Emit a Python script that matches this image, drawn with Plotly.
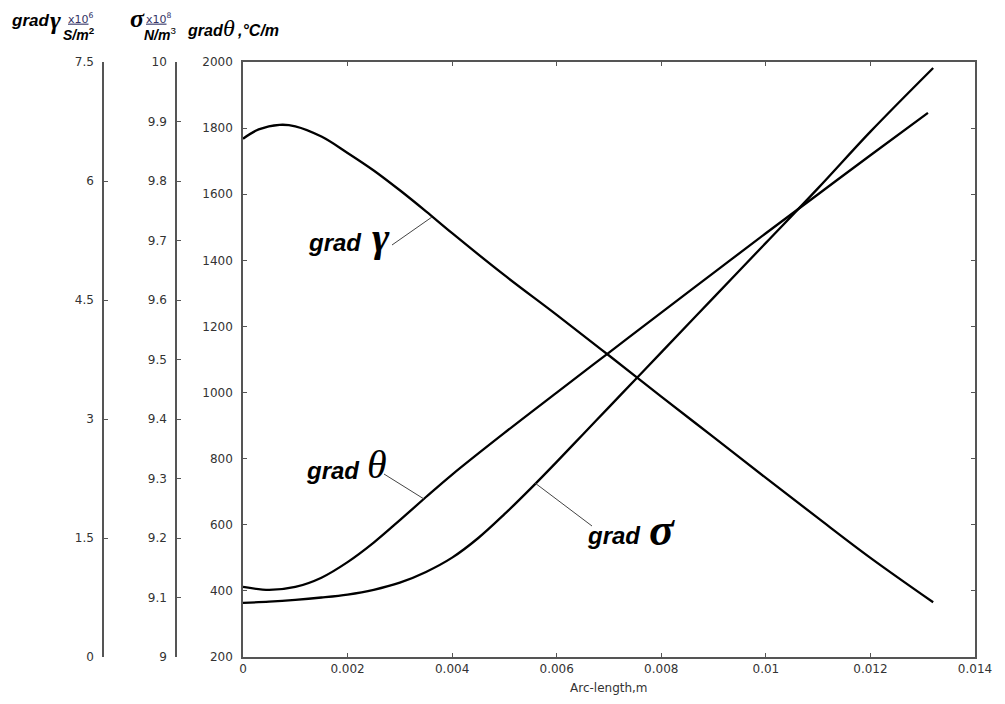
import plotly.graph_objects as go

# ---------------- data ----------------
# grad gamma (x10^6 S/m^2)
x_gamma = [0.0, 0.0003, 0.0007, 0.001, 0.0015, 0.002, 0.0025, 0.003, 0.0035, 0.004,
           0.005, 0.006, 0.007, 0.008, 0.009, 0.010, 0.011, 0.012, 0.0132]
grad_gamma = [6.533, 6.65, 6.708, 6.69, 6.56, 6.354, 6.133, 5.883, 5.617, 5.342,
              4.813, 4.313, 3.80, 3.283, 2.771, 2.258, 1.75, 1.25, 0.69]

# sigma (x10^8 N/m^3)
x_sigma = [0.0, 0.0005, 0.001, 0.0015, 0.002, 0.0025, 0.003, 0.0035, 0.004, 0.0045, 0.005,
           0.0055, 0.006, 0.0065, 0.007, 0.0075, 0.008, 0.009, 0.010, 0.011, 0.012, 0.0132]
grad_sigma = [9.091, 9.093, 9.096, 9.100, 9.105, 9.113, 9.125, 9.143, 9.167, 9.200, 9.240,
              9.283, 9.328, 9.374, 9.420, 9.466, 9.512, 9.604, 9.696, 9.788, 9.883, 9.99]

# grad theta (°C/m)
x_theta = [0.0, 0.0005, 0.001, 0.0015, 0.002, 0.0025, 0.003, 0.0035, 0.004, 0.005, 0.006,
           0.007, 0.008, 0.009, 0.010, 0.011, 0.012, 0.0131]
grad_theta = [412, 403, 412, 440, 487, 546, 614, 684, 752, 878, 1000,
              1121, 1242, 1362, 1482, 1600, 1718, 1846]

x_ticks = [0, 0.002, 0.004, 0.006, 0.008, 0.01, 0.012, 0.014]
x_ticktext = ["0", "0.002", "0.004", "0.006", "0.008", "0.01", "0.012", "0.014"]
theta_ticks = [200, 400, 600, 800, 1000, 1200, 1400, 1600, 1800, 2000]
sigma_ticks = [9, 9.1, 9.2, 9.3, 9.4, 9.5, 9.6, 9.7, 9.8, 9.9, 10]
sigma_ticktext = ["9", "9.1", "9.2", "9.3", "9.4", "9.5", "9.6", "9.7", "9.8", "9.9", "10"]
gamma_ticks = [0, 1.5, 3, 4.5, 6, 7.5]
gamma_ticktext = ["0", "1.5", "3", "4.5", "6", "7.5"]

# ---------------- layout helpers ----------------
OFF = 8                      # page body margin
W, H = 1005 - OFF, 704 - OFF
def px(x):
    return (x - OFF) / W
def py(y):
    return 1 - (y - OFF) / H

LEFT, RIGHT, TOP, BOTTOM = 243, 975, 62, 657
AX = "#555555"
TXT = "#333333"
tickfont = dict(family="DejaVu Sans", size=12, color=TXT)

fig = go.Figure()
line = dict(color="black", width=2.3, shape="spline", smoothing=1.0)
fig.add_trace(go.Scatter(x=x_theta, y=grad_theta, mode="lines", line=line,
                         yaxis="y", name="grad θ"))
fig.add_trace(go.Scatter(x=x_sigma, y=grad_sigma, mode="lines", line=line,
                         yaxis="y2", name="grad σ"))
fig.add_trace(go.Scatter(x=x_gamma, y=grad_gamma, mode="lines", line=line,
                         yaxis="y3", name="grad γ"))

fig.update_layout(
    width=W, height=H,
    margin=dict(l=0, r=0, t=0, b=0, autoexpand=False),
    paper_bgcolor="white", plot_bgcolor="white",
    showlegend=False,
    xaxis=dict(domain=[px(LEFT), px(RIGHT)], range=[0, 0.014], automargin=False,
               tickvals=x_ticks, ticktext=x_ticktext, tickfont=tickfont,
               ticks="inside", ticklen=4, tickcolor=AX,
               showline=True, linecolor=AX, linewidth=1.5, mirror="ticks",
               showgrid=False, zeroline=False),
    yaxis=dict(domain=[py(BOTTOM), py(TOP)], range=[200, 2000], automargin=False,
               tickvals=theta_ticks, tickfont=tickfont,
               ticks="inside", ticklen=4, tickcolor=AX, ticklabelstandoff=6,
               showline=True, linecolor=AX, linewidth=1.5, mirror="ticks",
               showgrid=False, zeroline=False),
    yaxis2=dict(overlaying="y", anchor="free", position=px(176), side="left", automargin=False,
                range=[9, 10], tickvals=sigma_ticks, ticktext=sigma_ticktext,
                tickfont=tickfont, ticks="inside", ticklen=4, tickcolor=AX, ticklabelstandoff=6,
                showline=True, linecolor=AX, linewidth=1.5,
                showgrid=False, zeroline=False),
    yaxis3=dict(overlaying="y", anchor="free", position=px(103), side="left", automargin=False,
                range=[0, 7.5], tickvals=gamma_ticks, ticktext=gamma_ticktext,
                tickfont=tickfont, ticks="inside", ticklen=4, tickcolor=AX, ticklabelstandoff=6,
                showline=True, linecolor=AX, linewidth=1.5,
                showgrid=False, zeroline=False),
)

# ---------------- text annotations ----------------
bi = dict(family="Liberation Sans", color="black")
greek = dict(family="Liberation Serif", color="black")
small = dict(family="DejaVu Sans", color="#333366")

def note(text, x, y, size, fam, xanchor="left", yanchor="middle"):
    fig.add_annotation(text=text, x=px(x), y=py(y), xref="paper", yref="paper",
                       showarrow=False, xanchor=xanchor, yanchor=yanchor,
                       font=dict(size=size, **fam), borderpad=0)

# x-axis title
note("Arc-length,m", 609, 688, 12, dict(family="DejaVu Sans", color=TXT), xanchor="center")

# header: grad gamma
note("<b><i>grad</i></b>", 10, 20, 17, bi)
note("<b><i>γ</i></b>", 49, 20, 26, greek)
note("<u>x10</u><sup>6</sup>", 67, 18, 11, small)
note("<b><i>S/m</i></b><sup><b>2</b></sup>", 62, 34, 14, bi)
# header: sigma
note("<b><i>σ</i></b>", 129, 18, 26, greek)
note("<u>x10</u><sup>8</sup>", 145, 18, 11, small)
note("<b><i>N/m</i></b><sup>3</sup>", 143, 34, 14, bi)
# header: grad theta
note("<b><i>grad</i></b>", 186, 30, 16, bi)
note("<i>θ</i>", 222, 28, 24, greek)
note("<b><i>,°C/m</i></b>", 236, 30, 16, bi)

# curve labels
note("<b><i>grad</i></b>", 307, 242, 24, bi)
note("<b><i>γ</i></b>", 371, 237, 42, greek)
note("<b><i>grad</i></b>", 305, 470, 24, bi)
note("<i>θ</i>", 366, 464, 40, greek)
note("<b><i>grad</i></b>", 586, 535, 24, bi)
note("<b><i>σ</i></b>", 648, 529, 46, greek)

# leader lines (in main-axis data coordinates)
def leader(x0, y0, x1, y1):
    fig.add_shape(type="line", xref="x", yref="y", x0=x0, y0=y0, x1=x1, y1=y1,
                  line=dict(color="#444444", width=1))

def dx(p):
    return (p - LEFT) / (RIGHT - LEFT) * 0.014
def dy(p):
    return 2000 - (p - TOP) / (BOTTOM - TOP) * 1800

leader(dx(392), dy(245), dx(432), dy(217))
leader(dx(384), dy(474), dx(424), dy(499))
leader(dx(592), dy(526), dx(535), dy(483))

fig.write_html("out.html")
